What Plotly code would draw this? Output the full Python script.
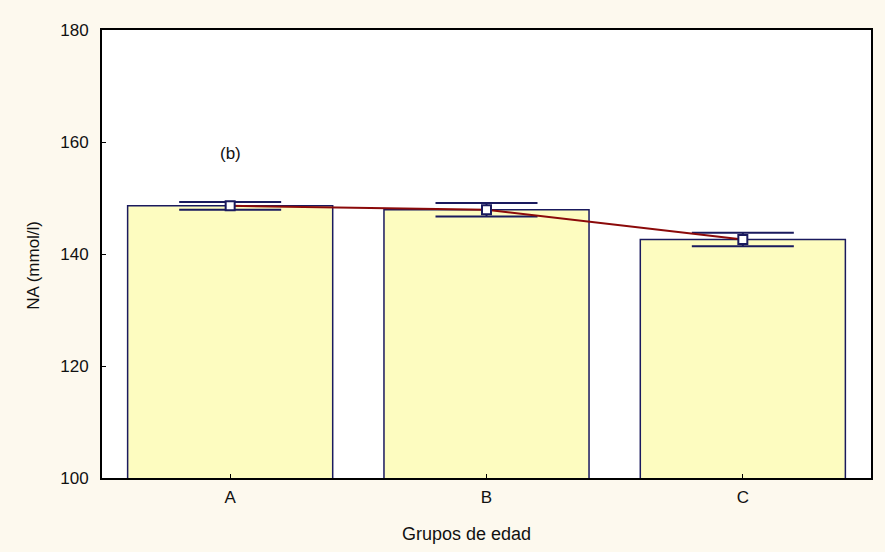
import plotly.graph_objects as go

# Age groups and mean sodium concentration with its error half-width
grupos = ["A", "B", "C"]
na_media = [148.6, 147.9, 142.6]
na_error = [0.7, 1.2, 1.2]
y_ticks = [100, 120, 140, 160, 180]

navy = "#1a1a5e"
family = "Liberation Sans, Arial, sans-serif"
font = dict(family=family, size=17, color="#111111")

fig = go.Figure()

fig.add_trace(go.Bar(
    x=grupos,
    y=na_media,
    width=0.8,
    marker=dict(color="#FDFCC0", line=dict(color=navy, width=1.5)),
    hoverinfo="skip",
))

fig.add_trace(go.Scatter(
    x=grupos,
    y=na_media,
    mode="lines+markers",
    line=dict(color="#8B0A0A", width=2),
    marker=dict(symbol="square", size=9, color="white",
                line=dict(color=navy, width=2)),
    error_y=dict(type="data", array=na_error, visible=True,
                 color=navy, thickness=2, width=51),
))

fig.add_annotation(x="A", y=158.0, text="(b)", showarrow=False,
                   font=dict(family=family, size=17, color="#111111"))

# Axis titles placed as annotations
fig.add_annotation(x=0.4746, y=-0.124, xref="paper", yref="paper",
                   text="Grupos de edad", showarrow=False,
                   xanchor="center", yanchor="middle",
                   font=dict(family=family, size=18, color="#111111"))
fig.add_annotation(x=-0.089, y=0.475, xref="paper", yref="paper",
                   text="NA (mmol/l)", showarrow=False, textangle=-90,
                   xanchor="center", yanchor="middle",
                   font=dict(family=family, size=17, color="#111111"))

fig.update_layout(
    width=885, height=552,
    margin=dict(l=102, r=14, t=30, b=74),
    paper_bgcolor="#FDF9EE",
    plot_bgcolor="white",
    showlegend=False,
    font=font,
    bargap=0.2,
)

fig.update_xaxes(
    showline=True, linecolor="black", linewidth=2, mirror=True,
    ticks="inside", ticklen=4, tickcolor="black",
    ticklabelstandoff=3,
    showgrid=False,
)
fig.update_yaxes(
    range=[100, 180], tickvals=y_ticks,
    showline=True, linecolor="black", linewidth=2, mirror=True,
    ticks="inside", ticklen=4, tickcolor="black",
    ticklabelstandoff=8,
    showgrid=False, zeroline=False,
)

fig.write_html("out.html")
